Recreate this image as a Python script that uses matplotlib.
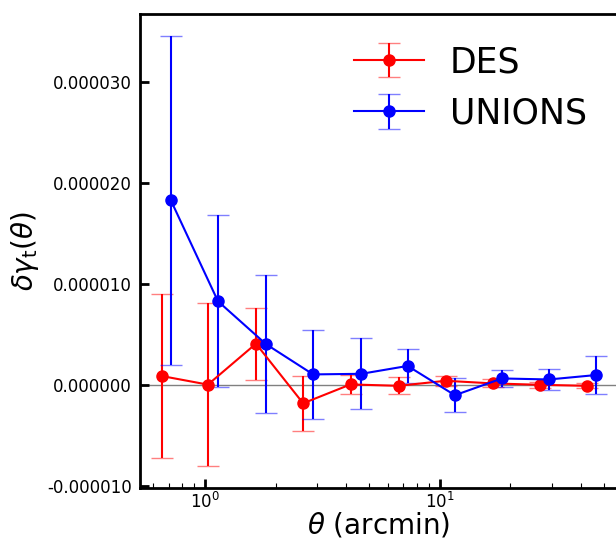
import numpy as np
import matplotlib
matplotlib.use('Agg')
import matplotlib.pyplot as plt
from matplotlib.ticker import FormatStrFormatter, MultipleLocator

# theta bins (arcmin)
theta_des = [0.655, 1.03, 1.65, 2.62, 4.17, 6.68, 10.6, 16.8, 26.8, 42.5]
theta_unions = [0.716, 1.137, 1.82, 2.89, 4.64, 7.30, 11.6, 18.4, 29.2, 46.4]

# delta gamma_t values and errors (in units of 1e-5)
dgt_des = [0.09, 0.005, 0.41, -0.18, 0.007, -0.007, 0.043, 0.017, 0.003, -0.007]
err_des = [0.81, 0.81, 0.355, 0.27, 0.09, 0.085, 0.05, 0.04, 0.03, 0.025]
dgt_unions = [1.83, 0.83, 0.406, 0.106, 0.112, 0.19, -0.10, 0.066, 0.056, 0.10]
err_unions = [1.63, 0.85, 0.68, 0.44, 0.35, 0.17, 0.17, 0.083, 0.105, 0.19]

scale = 1e-5

fig = plt.figure(figsize=(6.16, 5.38), dpi=100)
ax = fig.add_axes([140 / 616, 50 / 538, 478 / 616, 474 / 538])

ax.axhline(0, color='gray', lw=1, zorder=0)

# DES
eb1 = ax.errorbar(theta_des, np.array(dgt_des) * scale, yerr=np.array(err_des) * scale,
                  fmt='-o', color='red', ms=8, lw=1.5, elinewidth=1.5,
                  capsize=8, capthick=1, label='DES')
# UNIONS
eb2 = ax.errorbar(theta_unions, np.array(dgt_unions) * scale, yerr=np.array(err_unions) * scale,
                  fmt='-o', color='blue', ms=8, lw=1.5, elinewidth=1.5,
                  capsize=8, capthick=1, label='UNIONS')
# caps are drawn lighter in the original
for eb in (eb1, eb2):
    for cap in eb[1]:
        cap.set_alpha(0.5)

ax.set_xscale('log')
ax.yaxis.set_major_locator(MultipleLocator(1e-5))
ax.yaxis.set_major_formatter(FormatStrFormatter('%.6f'))

ax.tick_params(which='major', direction='in', length=6.5, width=2, labelsize=12)
ax.tick_params(axis='y', pad=6)
ax.tick_params(axis='x', pad=3)
ax.tick_params(which='minor', direction='in', length=3.5, width=0.8)
for s in ax.spines.values():
    s.set_linewidth(2)

ax.set_xlabel(r'$\theta$ (arcmin)', fontsize=20, labelpad=-1)
ax.set_ylabel(r'$\delta\gamma_{\rm t}(\theta)$', fontsize=20)

ax.legend(loc='upper right', fontsize=25, frameon=False, handletextpad=0.75)

fig.savefig('out.png', dpi=100)
